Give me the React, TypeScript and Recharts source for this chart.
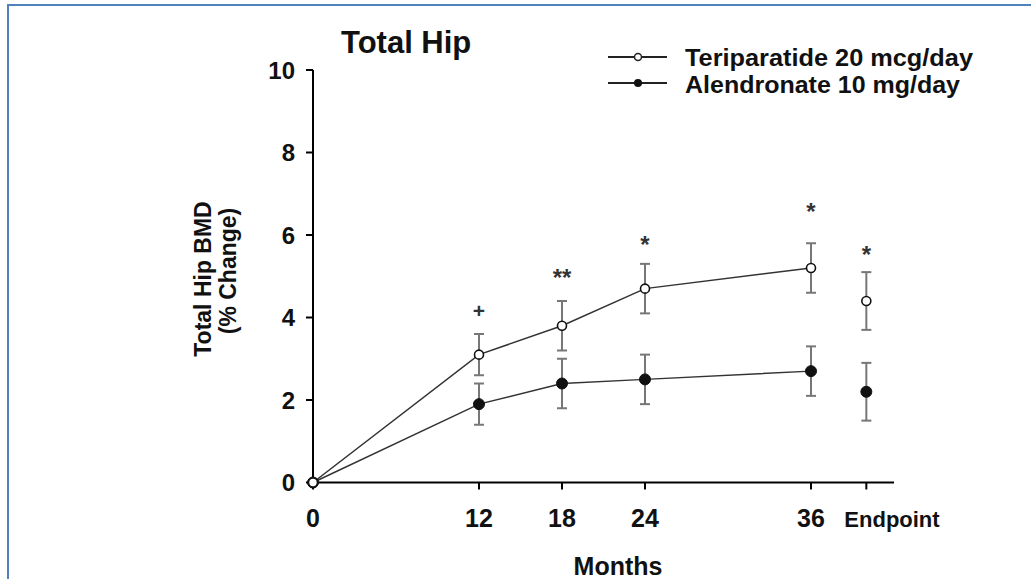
import { ComposedChart, Line, Scatter, XAxis, YAxis, ErrorBar } from 'recharts';

const months = [0, 12, 18, 24, 36];
const teriparatide = [0, 3.1, 3.8, 4.7, 5.2];
const teriparatideErr = [null, 0.5, 0.6, 0.6, 0.6];
const alendronate = [0, 1.9, 2.4, 2.5, 2.7];
const alendronateErr = [null, 0.5, 0.6, 0.6, 0.6];

// endpoint values are drawn apart, not joined to the lines
const endpointX = 40;
const teriparatideEnd = 4.4;
const teriparatideEndErr = 0.7;
const alendronateEnd = 2.2;
const alendronateEndErr = 0.7;

const xTicks = [0, 12, 18, 24, 36, 40];
const xTickLabels = ['0', '12', '18', '24', '36', 'Endpoint'];
const yTicks = [0, 2, 4, 6, 8, 10];

// significance marks
const markText = ['+', '**', '*', '*', '*'];
const markX = [12, 18, 24, 36, 40];
const markY = [4.14, 5.09, 5.9, 6.69, 5.66];

const rows = months.map((m, i) => ({
  x: m,
  teri: teriparatide[i],
  teriErr: teriparatideErr[i],
  alen: alendronate[i],
  alenErr: alendronateErr[i],
}));
const teriEndData = [{ x: endpointX, y: teriparatideEnd, err: teriparatideEndErr }];
const alenEndData = [{ x: endpointX, y: alendronateEnd, err: alendronateEndErr }];
const markData = markText.map((t, i) => ({ x: markX[i], y: markY[i], text: t }));

const FONT = '"Liberation Sans", Arial, sans-serif';
const INK = '#111';

const OpenDot = (p: any) =>
  p.cx == null ? null : <circle cx={p.cx} cy={p.cy} r={4.5} fill="#fff" stroke="#111" strokeWidth={1.6} />;
const FilledDot = (p: any) =>
  p.cx == null ? null : <circle cx={p.cx} cy={p.cy} r={5.5} fill="#111" stroke="#111" strokeWidth={1} />;

const MarkShape = (p: any) => {
  const t = p.payload.text;
  const fs = t === '+' ? 21 : 24;
  const off = t === '+' ? 0.32 : 0.58;
  return (
    <text x={p.cx} y={p.cy + fs * off} textAnchor="middle" fontSize={fs} fontWeight="bold" fontFamily={FONT} fill="#333">
      {t}
    </text>
  );
};

const XTick = (p: any) => {
  const idx = xTicks.indexOf(p.payload.value);
  const label = xTickLabels[idx];
  const isEnd = label === 'Endpoint';
  return (
    <text
      x={isEnd ? p.x - 22 : p.x}
      y={p.y + 35}
      textAnchor={isEnd ? 'start' : 'middle'}
      fontSize={isEnd ? 22 : 25}
      fontWeight="bold"
      fontFamily={FONT}
      fill={INK}
    >
      {label}
    </text>
  );
};

export default function App() {
  return (
    <div style={{ position: 'absolute', left: 0, top: 0, width: 1031, height: 579, background: '#fff', overflow: 'hidden' }}>
      <div
        style={{
          position: 'absolute',
          left: 7,
          top: 4,
          width: 1200,
          height: 800,
          borderTop: '2px solid #4f81bd',
          borderLeft: '2px solid #4f81bd',
        }}
      />
      <div style={{ position: 'absolute', left: 0, top: 0 }}>
        <ComposedChart
          width={1031}
          height={579}
          data={rows}
          margin={{ top: 70, right: 137, left: 253, bottom: 36.5 }}
        >
          <XAxis
            type="number"
            dataKey="x"
            domain={[0, 42]}
            ticks={xTicks}
            interval={0}
            tickSize={7}
            height={60}
            tick={<XTick />}
            axisLine={{ stroke: '#000', strokeWidth: 2 }}
            tickLine={{ stroke: '#000', strokeWidth: 2 }}
          />
          <YAxis
            type="number"
            domain={[0, 10]}
            ticks={yTicks}
            interval={0}
            width={60}
            tickSize={7}
            tickMargin={11}
            tick={{ fontSize: 24, fontWeight: 'bold', fill: INK, fontFamily: FONT }}
            axisLine={{ stroke: '#000', strokeWidth: 2 }}
            tickLine={{ stroke: '#000', strokeWidth: 2 }}
          />
          <Line
            dataKey="alen"
            type="linear"
            stroke="#333"
            strokeWidth={1.5}
            dot={<FilledDot />}
            activeDot={false}
            isAnimationActive={false}
          >
            <ErrorBar dataKey="alenErr" direction="y" width={5} stroke="#777" strokeWidth={2} />
          </Line>
          <Line
            dataKey="teri"
            type="linear"
            stroke="#333"
            strokeWidth={1.5}
            dot={<OpenDot />}
            activeDot={false}
            isAnimationActive={false}
          >
            <ErrorBar dataKey="teriErr" direction="y" width={5} stroke="#777" strokeWidth={2} />
          </Line>
          <Scatter data={alenEndData} dataKey="y" shape={<FilledDot />} isAnimationActive={false}>
            <ErrorBar dataKey="err" direction="y" width={5} stroke="#777" strokeWidth={2} />
          </Scatter>
          <Scatter data={teriEndData} dataKey="y" shape={<OpenDot />} isAnimationActive={false}>
            <ErrorBar dataKey="err" direction="y" width={5} stroke="#777" strokeWidth={2} />
          </Scatter>
          <Scatter data={markData} dataKey="y" shape={<MarkShape />} isAnimationActive={false} />
        </ComposedChart>
      </div>
      <svg width={1031} height={579} style={{ position: 'absolute', left: 0, top: 0, pointerEvents: 'none' }}>
        <text x={341} y={53} fontSize={31} fontWeight="bold" fontFamily={FONT} fill={INK}>
          Total Hip
        </text>
        <g fontFamily={FONT} fontWeight="bold" fill={INK} fontSize={23}>
          <line x1={608} y1={57} x2={667} y2={57} stroke="#222" strokeWidth={2} />
          <circle cx={638} cy={57} r={3.5} fill="#fff" stroke="#222" strokeWidth={1.5} />
          <text x={685} y={66} textLength={288} lengthAdjust="spacingAndGlyphs">
            Teriparatide 20 mcg/day
          </text>
          <line x1={608} y1={83} x2={667} y2={83} stroke="#222" strokeWidth={2} />
          <circle cx={638} cy={83} r={4} fill="#111" />
          <text x={685} y={93} textLength={275} lengthAdjust="spacingAndGlyphs">
            Alendronate 10 mg/day
          </text>
        </g>
        <g fontFamily={FONT} fontWeight="bold" fill={INK} textAnchor="middle">
          <text fontSize={23} transform="translate(211,279) rotate(-90)">Total Hip BMD</text>
          <text fontSize={23} transform="translate(236,271) rotate(-90)">(% Change)</text>
          <text fontSize={25} x={618} y={575}>Months</text>
        </g>
      </svg>
    </div>
  );
}
